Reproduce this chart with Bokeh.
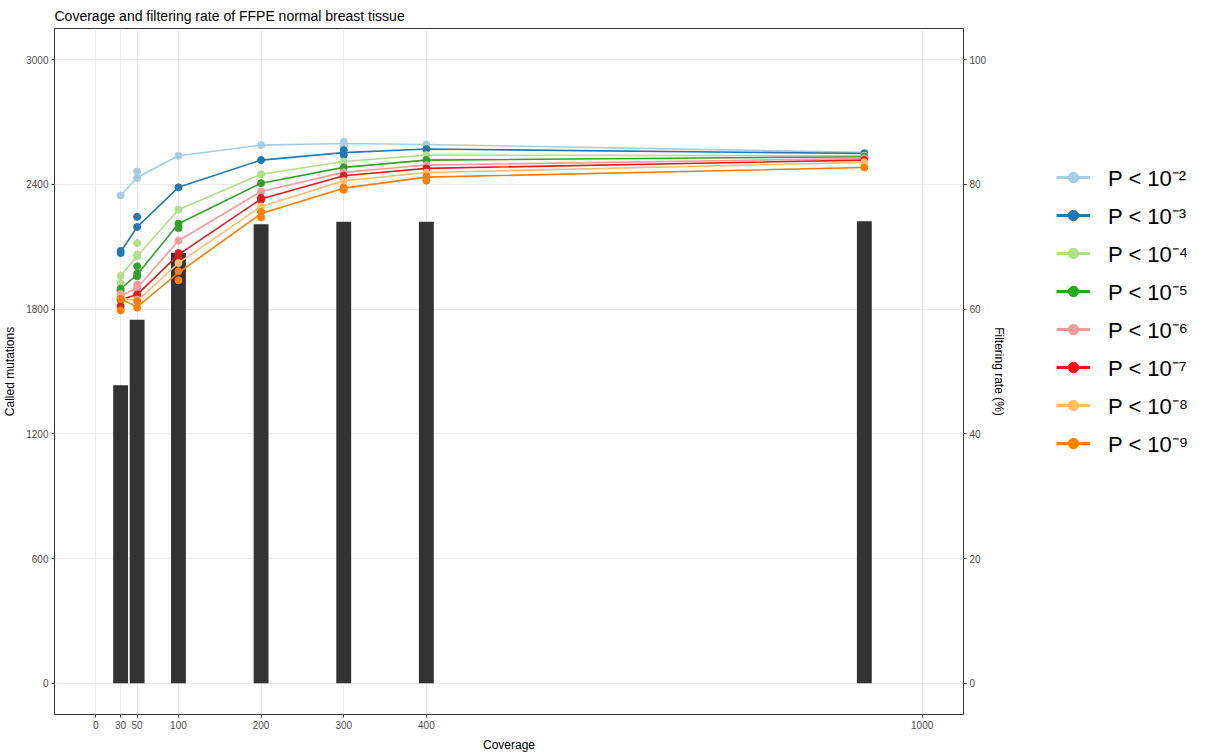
from bokeh.plotting import figure
from bokeh.layouts import row
from bokeh.models import Range1d, LinearAxis, FixedTicker, Legend, LegendItem, ColumnDataSource
from bokeh.embed import file_html
from bokeh.resources import INLINE

# ---------------- data ----------------
coverage = [30, 50, 100, 200, 300, 400, 930]
filter_rate = [47.8, 58.3, 69.0, 73.6, 74.0, 74.0, 74.1]

x_ticks = [0, 30, 50, 100, 200, 300, 400, 1000]
left_ticks = [0, 600, 1200, 1800, 2400, 3000]
right_ticks = [0, 20, 40, 60, 80, 100]

series_labels = ["P < 10⁻²", "P < 10⁻³", "P < 10⁻⁴", "P < 10⁻⁵",
                 "P < 10⁻⁶", "P < 10⁻⁷", "P < 10⁻⁸", "P < 10⁻⁹"]
colors = ["#A6CEE3", "#1F78B4", "#B2DF8A", "#33A02C",
          "#FB9A99", "#E31A1C", "#FDBF6F", "#FF7F00"]

line_p2 = [2347, 2433, 2538, 2589, 2597, 2592, 2554]
line_p3 = [2075, 2195, 2386, 2517, 2553, 2570, 2549]
line_p4 = [1960, 2054, 2278, 2449, 2510, 2541, 2538]
line_p5 = [1898, 1966, 2211, 2406, 2482, 2517, 2533]
line_p6 = [1864, 1902, 2129, 2366, 2458, 2493, 2525]
line_p7 = [1845, 1870, 2062, 2330, 2442, 2477, 2517]
line_p8 = [1855, 1840, 2022, 2294, 2417, 2457, 2506]
line_p9 = [1850, 1811, 1975, 2260, 2382, 2435, 2481]

pts_p2 = [[2347], [2462, 2430], [2538], [2589], [2605, 2589], [2592], [2554]]
pts_p3 = [[2070, 2080], [2244, 2195], [2386], [2517], [2565, 2541], [2570], [2549]]
pts_p4 = [[1960, 1926], [2118, 2054, 2062], [2278], [2449], [2510], [2541], [2538]]
pts_p5 = [[1898, 1890], [2006, 1971, 1958], [2211, 2190], [2406], [2482], [2517], [2533]]
pts_p6 = [[1873, 1862], [1918, 1902], [2129], [2366], [2458], [2493], [2525]]
pts_p7 = [[1845, 1815], [1870], [2070, 2054], [2335, 2326], [2442], [2477], [2517]]
pts_p8 = [[1855, 1850], [1846], [2022], [2294], [2417], [2457], [2506]]
pts_p9 = [[1850, 1794], [1839, 1807], [1982, 1939], [2267, 2241], [2385, 2374], [2438, 2418], [2481]]

lines = [line_p2, line_p3, line_p4, line_p5, line_p6, line_p7, line_p8, line_p9]
points = [pts_p2, pts_p3, pts_p4, pts_p5, pts_p6, pts_p7, pts_p8, pts_p9]

FONT = "Liberation Sans"

# ---------------- main figure ----------------
p = figure(frame_width=909, frame_height=686,
           x_range=Range1d(-50, 1050), y_range=Range1d(-150, 3150),
           output_backend="svg", toolbar_location=None,
           min_border_left=49, min_border_top=28, min_border_bottom=10,
           min_border_right=50,
           title="Coverage and filtering rate of FFPE normal breast tissue")
p.extra_y_ranges = {"pct": Range1d(-5, 105)}

p.title.text_font = FONT
p.title.text_font_size = "14px"
p.title.text_font_style = "normal"
p.title.text_color = "black"
p.title.align = "left"
p.title.offset = 0

p.background_fill_color = "white"
p.border_fill_color = "white"
p.outline_line_color = "#333333"
p.outline_line_width = 1

# bars (filtering rate, right axis)
bar_src = ColumnDataSource(dict(x=coverage, top=filter_rate))
p.vbar(x="x", top="top", bottom=0, width=18, source=bar_src,
       y_range_name="pct", fill_color="#333333", line_color=None)

# lines
for c, lv in zip(colors, lines):
    p.line(coverage, lv, line_color=c, line_width=1.6)

# points
for c, pv in zip(colors, points):
    xs, ys = [], []
    for cov, vals in zip(coverage, pv):
        for v in vals:
            xs.append(cov)
            ys.append(v)
    p.scatter(xs, ys, size=7, fill_color=c, line_color=c)

# axes
p.xaxis.ticker = FixedTicker(ticks=x_ticks)
p.yaxis.ticker = FixedTicker(ticks=left_ticks)
p.xaxis.axis_label = "Coverage"
p.yaxis.axis_label = "Called mutations"

raxis = LinearAxis(y_range_name="pct", ticker=FixedTicker(ticks=right_ticks),
                   axis_label="Filtering rate (%)")
p.add_layout(raxis, "right")

for ax in [p.xaxis[0], p.yaxis[0], raxis]:
    ax.axis_line_color = None
    ax.major_tick_line_color = "#333333"
    ax.major_tick_in = 0
    ax.major_tick_out = 3
    ax.minor_tick_line_color = None
    ax.major_label_text_font = FONT
    ax.major_label_text_font_size = "10px"
    ax.major_label_text_color = "#4D4D4D"
    ax.major_label_standoff = 3
    ax.axis_label_text_font = FONT
    ax.axis_label_text_font_size = "12px"
    ax.axis_label_text_font_style = "normal"
    ax.axis_label_text_color = "black"
    ax.axis_label_standoff = 6
raxis.axis_label_standoff = 3

p.xgrid.ticker = FixedTicker(ticks=x_ticks)
p.ygrid.ticker = FixedTicker(ticks=left_ticks)
p.xgrid.grid_line_color = "#EBEBEB"
p.ygrid.grid_line_color = "#EBEBEB"
p.xgrid.grid_line_width = 1
p.ygrid.grid_line_width = 1

# ---------------- legend panel ----------------
lg = figure(width=185, height=737, x_range=Range1d(0, 1), y_range=Range1d(0, 1),
            output_backend="svg", toolbar_location=None, min_border=0)
lg.outline_line_color = None
lg.axis.visible = False
lg.grid.visible = False
lg.background_fill_color = "white"
lg.border_fill_color = "white"

items = []
for c, lab, lv in zip(colors, series_labels, lines):
    lr = lg.line(coverage, lv, line_color=c, line_width=3, visible=False)
    sr = lg.scatter(coverage, lv, size=12, fill_color=c, line_color=c, visible=False)
    items.append(LegendItem(label=lab, renderers=[lr, sr]))

legend = Legend(items=items, location=(43, 239), click_policy="none")
legend.label_text_font = FONT
legend.label_text_font_size = "22px"
legend.label_text_color = "black"
legend.glyph_width = 34
legend.glyph_height = 26
legend.label_height = 26
legend.label_standoff = 18
legend.spacing = 8
legend.padding = 0
legend.margin = 0
legend.border_line_color = None
legend.background_fill_alpha = 0
lg.add_layout(legend, "center")

layout = row(p, lg)
open("out.html", "w").write(file_html(layout, INLINE))
